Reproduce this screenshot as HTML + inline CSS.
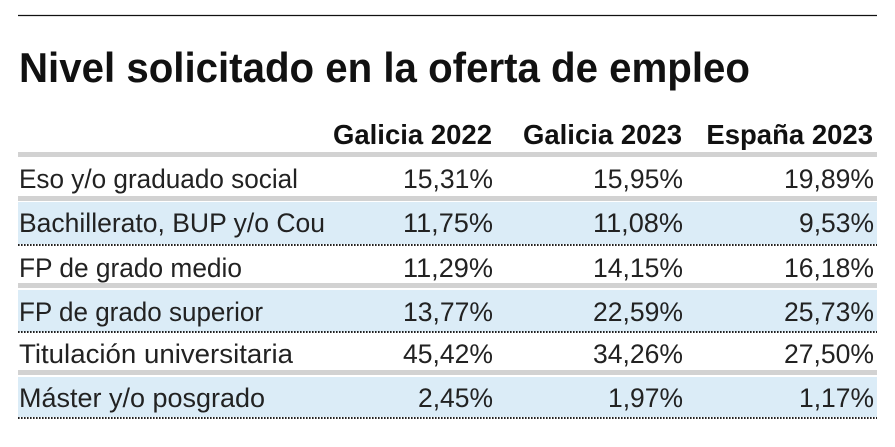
<!DOCTYPE html>
<html>
<head>
<meta charset="utf-8">
<style>
html,body{margin:0;padding:0;background:#fff;}
svg{display:block;}
text{font-family:"Liberation Sans",sans-serif;}
.t{font-size:42px;font-weight:bold;fill:#111;}
.h{font-size:27.5px;font-weight:bold;fill:#111;text-anchor:end;}
.l{font-size:27px;fill:#222;}
.n{font-size:27px;fill:#222;text-anchor:end;}
</style>
</head>
<body>
<svg width="895" height="447" viewBox="0 0 895 447" xmlns="http://www.w3.org/2000/svg">
<rect x="0" y="0" width="895" height="447" fill="#fff"/>
<line x1="18" y1="15.5" x2="877" y2="15.5" stroke="#111" stroke-width="1.3"/>
<text class="t" x="19" y="82" textLength="731" lengthAdjust="spacingAndGlyphs">Nivel solicitado en la oferta de empleo</text>

<text class="h" x="492" y="144">Galicia 2022</text>
<text class="h" x="682" y="144">Galicia 2023</text>
<text class="h" x="873" y="144">España 2023</text>

<!-- gray bars -->
<rect x="18" y="152" width="859" height="5" fill="#d2d2d2"/>
<rect x="18" y="196" width="859" height="5" fill="#d2d2d2"/>
<rect x="18" y="283" width="859" height="5" fill="#d2d2d2"/>
<rect x="18" y="370" width="859" height="5" fill="#d2d2d2"/>

<!-- blue rows -->
<rect x="18" y="202" width="859" height="42" fill="#dbecf7"/>
<rect x="18" y="290" width="859" height="42" fill="#dbecf7"/>
<rect x="18" y="377" width="859" height="40" fill="#dbecf7"/>

<!-- dotted lines -->
<line x1="18" y1="245" x2="877" y2="245" stroke="#222" stroke-width="2" stroke-dasharray="1.6 1.4"/>
<line x1="18" y1="332" x2="877" y2="332" stroke="#222" stroke-width="2" stroke-dasharray="1.6 1.4"/>
<line x1="18" y1="418" x2="877" y2="418" stroke="#222" stroke-width="2" stroke-dasharray="1.6 1.4"/>

<!-- row 1 -->
<text class="l" x="19" y="188" textLength="279" lengthAdjust="spacingAndGlyphs">Eso y/o graduado social</text>
<text class="n" x="493" y="188" textLength="90" lengthAdjust="spacingAndGlyphs">15,31%</text>
<text class="n" x="683" y="188" textLength="90" lengthAdjust="spacingAndGlyphs">15,95%</text>
<text class="n" x="874" y="188" textLength="90" lengthAdjust="spacingAndGlyphs">19,89%</text>

<!-- row 2 -->
<text class="l" x="19" y="232" textLength="306" lengthAdjust="spacingAndGlyphs">Bachillerato, BUP y/o Cou</text>
<text class="n" x="493" y="232" textLength="90" lengthAdjust="spacingAndGlyphs">11,75%</text>
<text class="n" x="683" y="232" textLength="90" lengthAdjust="spacingAndGlyphs">11,08%</text>
<text class="n" x="874" y="232" textLength="75" lengthAdjust="spacingAndGlyphs">9,53%</text>

<!-- row 3 -->
<text class="l" x="19" y="277" textLength="223" lengthAdjust="spacingAndGlyphs">FP de grado medio</text>
<text class="n" x="493" y="277" textLength="90" lengthAdjust="spacingAndGlyphs">11,29%</text>
<text class="n" x="683" y="277" textLength="90" lengthAdjust="spacingAndGlyphs">14,15%</text>
<text class="n" x="874" y="277" textLength="90" lengthAdjust="spacingAndGlyphs">16,18%</text>

<!-- row 4 -->
<text class="l" x="19" y="321" textLength="244" lengthAdjust="spacingAndGlyphs">FP de grado superior</text>
<text class="n" x="493" y="321" textLength="90" lengthAdjust="spacingAndGlyphs">13,77%</text>
<text class="n" x="683" y="321" textLength="90" lengthAdjust="spacingAndGlyphs">22,59%</text>
<text class="n" x="874" y="321" textLength="90" lengthAdjust="spacingAndGlyphs">25,73%</text>

<!-- row 5 -->
<text class="l" x="19" y="363" textLength="274" lengthAdjust="spacingAndGlyphs">Titulación universitaria</text>
<text class="n" x="493" y="363" textLength="90" lengthAdjust="spacingAndGlyphs">45,42%</text>
<text class="n" x="683" y="363" textLength="90" lengthAdjust="spacingAndGlyphs">34,26%</text>
<text class="n" x="874" y="363" textLength="90" lengthAdjust="spacingAndGlyphs">27,50%</text>

<!-- row 6 -->
<text class="l" x="19" y="407" textLength="246" lengthAdjust="spacingAndGlyphs">Máster y/o posgrado</text>
<text class="n" x="493" y="407" textLength="75" lengthAdjust="spacingAndGlyphs">2,45%</text>
<text class="n" x="683" y="407" textLength="75" lengthAdjust="spacingAndGlyphs">1,97%</text>
<text class="n" x="874" y="407" textLength="75" lengthAdjust="spacingAndGlyphs">1,17%</text>
</svg>
</body>
</html>
